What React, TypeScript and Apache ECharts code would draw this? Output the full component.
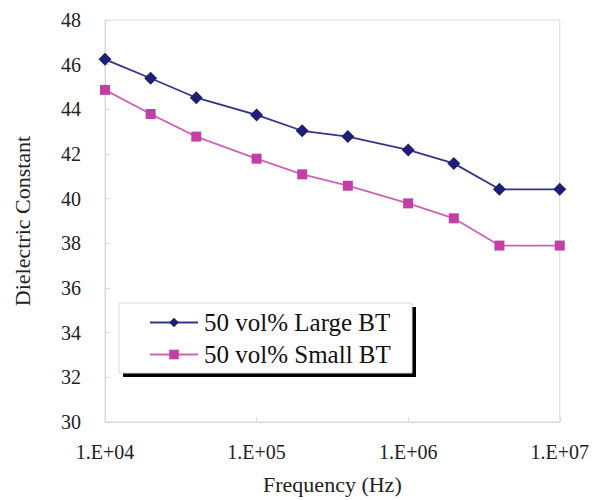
import React, { useEffect, useRef } from "react";
import * as echarts from "echarts";

const frequencies = [1e4, 2e4, 4e4, 1e5, 2e5, 4e5, 1e6, 2e6, 4e6, 1e7];
const largeBT = [46.24, 45.39, 44.52, 43.75, 43.04, 42.78, 42.18, 41.58, 40.42, 40.42];
const smallBT = [44.87, 43.79, 42.78, 41.79, 41.09, 40.58, 39.79, 39.12, 37.9, 37.9];
const seriesNames = ["50 vol% Large BT", "50 vol% Small BT"];
const xTitle = "Frequency (Hz)";
const yTitle = "Dielectric Constant";

const FONT = "Liberation Serif";
const BLUE = "#1e1e74";
const BLUE_LINE = "#34348a";
const PINK = "#c23fa6";
const PINK_LINE = "#d061b6";
const GRAY = "#d9d9d9";

export default function App() {
  const ref = useRef<HTMLDivElement>(null);
  useEffect(() => {
    if (!ref.current) return;
    const chart = echarts.init(ref.current, null, { renderer: "svg" });
    const toPairs = (ys: number[]) => frequencies.map((f, i) => [f, ys[i]]);
    chart.setOption({
      animation: false,
      backgroundColor: "#ffffff",
      textStyle: { fontFamily: FONT },
      grid: {
        left: 105,
        top: 20,
        right: 32,
        bottom: 78,
        show: true,
        borderColor: GRAY,
        borderWidth: 1,
      },
      xAxis: {
        type: "log",
        logBase: 10,
        min: 1e4,
        max: 1e7,
        name: xTitle,
        nameLocation: "middle",
        nameGap: 51,
        nameTextStyle: { fontFamily: FONT, fontSize: 22, color: "#222" },
        axisLine: { lineStyle: { color: GRAY } },
        axisTick: { show: true, inside: true, length: 5, lineStyle: { color: GRAY } },
        minorTick: { show: false },
        splitLine: { show: false },
        axisLabel: {
          fontFamily: FONT,
          fontSize: 20,
          color: "#222",
          margin: 20,
          formatter: (v: number) => {
            const e = Math.round(Math.log10(v));
            return "1.E+" + (e < 10 ? "0" + e : String(e));
          },
        },
      },
      yAxis: {
        type: "value",
        min: 30,
        max: 48,
        interval: 2,
        name: yTitle,
        nameLocation: "middle",
        nameRotate: 90,
        nameGap: 72,
        nameTextStyle: { fontFamily: FONT, fontSize: 22, color: "#222" },
        axisLine: { show: true, lineStyle: { color: GRAY } },
        axisTick: { show: true, inside: true, length: 5, lineStyle: { color: GRAY } },
        splitLine: { show: false },
        axisLabel: { fontFamily: FONT, fontSize: 20, color: "#222", margin: 24 },
      },
      legend: {
        orient: "vertical",
        left: 149,
        top: 310,
        padding: 0,
        itemGap: 7,
        itemWidth: 48,
        itemHeight: 12,
        z: 10,
        textStyle: { fontFamily: FONT, fontSize: 25, color: "#111", padding: [0, 0, 0, 1] },
        data: seriesNames,
      },
      graphic: [
        {
          type: "rect",
          z: 1,
          shape: { x: 123, y: 307, width: 293, height: 70 },
          style: { fill: "#000000" },
        },
        {
          type: "rect",
          z: 2,
          shape: { x: 119, y: 303, width: 293, height: 70 },
          style: { fill: "#ffffff", stroke: GRAY, lineWidth: 1 },
        },
      ],
      series: [
        {
          name: seriesNames[0],
          type: "line",
          data: toPairs(largeBT),
          symbol: "diamond",
          symbolSize: 13,
          itemStyle: { color: BLUE },
          lineStyle: { color: BLUE_LINE, width: 1.8 },
        },
        {
          name: seriesNames[1],
          type: "line",
          data: toPairs(smallBT),
          symbol: "rect",
          symbolSize: 10,
          itemStyle: { color: PINK },
          lineStyle: { color: PINK_LINE, width: 1.8 },
        },
      ],
    });
    return () => chart.dispose();
  }, []);
  return (
    <div
      ref={ref}
      style={{ position: "fixed", left: 0, top: 0, width: 592, height: 500, background: "#fff" }}
    />
  );
}
